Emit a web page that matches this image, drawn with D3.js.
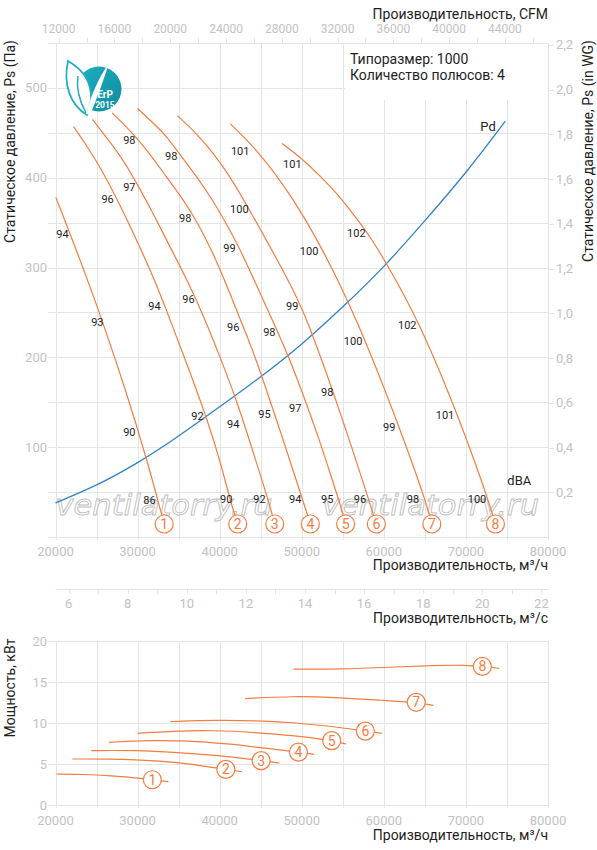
<!doctype html>
<html lang="ru">
<head>
<meta charset="utf-8">
<script src="https://cdn.jsdelivr.net/npm/d3@7"></script>
<style>
body { margin: 0; background: #fff; }
svg text { font-family: Roboto, "Noto Sans", sans-serif; }
.tick-label { fill: #c2c2c2; font-size: 13px; }
.title { fill: #1e1e1e; font-size: 14px; }
.dba { fill: #1e1e1e; font-size: 11px; }
</style>
</head>
<body>
<svg id="chart" width="597" height="850"></svg>
<script>
//=============================== DATA ===================================
var flowTicks  = [20000, 30000, 40000, 50000, 60000, 70000, 80000]
var psTicks    = [100, 200, 300, 400, 500]
var wgTicks    = [0.2, 0.4, 0.6, 0.8, 1.0, 1.2, 1.4, 1.6, 1.8, 2.0, 2.2]
var cfmTicks   = [12000, 14000, 16000, 18000, 20000, 22000, 24000, 26000, 28000,
                  30000, 32000, 34000, 36000, 38000, 40000, 42000, 44000, 46000]
var m3sTicks   = [6, 7, 8, 9, 10, 11, 12, 13, 14, 15, 16, 17, 18, 19, 20, 21, 22]
var powerTicks = [0, 5, 10, 15, 20]

// static pressure curves, [m3/h, Pa]
var ps1 = [[20050,378],[21500,344],[23050,307],[24350,275],[25450,247],[28550,164],[31200,84],[32700,33],[33550,4]]
var ps2 = [[22200,457],[24000,433],[25800,406],[27500,376],[29100,346],[30700,314],[32300,281],[33750,247],[36200,188],[38600,128],[40200,80],[41500,33],[42600,4]]
var ps3 = [[24500,465],[26450,442],[28400,418],[30200,389],[32200,355],[34000,322],[36100,285],[38000,247],[40200,197],[42150,150],[44200,91],[46200,33],[47000,4]]
var ps4 = [[26900,472],[28500,458],[30100,442],[31800,423],[33500,401],[35300,379],[37000,355],[38900,322],[40600,286],[42300,247],[43850,212],[45300,175],[47600,112],[49800,50],[50800,22],[51400,4]]
var ps5 = [[30000,477],[31550,464],[33400,448],[35300,424],[37150,402],[39000,377],[40700,351],[42400,322],[44000,290],[45450,261],[46400,242],[48500,199],[50400,153],[52150,108],[53600,67],[54800,33],[55650,4]]
var ps6 = [[34850,469],[37400,448],[40800,409],[43600,365],[48500,284],[50550,246],[55050,130],[58450,33],[59450,4]]
var ps7 = [[41300,460],[44600,431],[48700,381],[52600,320],[56750,242],[61600,130],[65400,33],[66100,4]]
var ps8 = [[47600,438],[49800,423],[52150,403],[54450,381],[56500,357],[58600,331],[60400,303],[64200,242],[69300,130],[73050,33],[73900,4]]
var psCurves = [ps1, ps2, ps3, ps4, ps5, ps6, ps7, ps8]

// dynamic pressure, [m3/h, Pa]
var pd = [[20000,38],[25000,57],[30000,82],[35000,112],[40000,145],[45000,178],[50000,214],[55000,256],[60000,300],[65000,352],[70000,405],[74800,463]]

// noise level labels along the curves, [m3/h, Pa, dBA]
var lbl1 = [[20850,337,94],[25100,239,93],[29000,117,90],[31450,41,86]]
var lbl2 = [[26350,376,96],[32050,257,94],[37300,135,92],[40800,42,90]]
var lbl3 = [[29000,389,97],[36200,265,96],[41650,126,94],[44850,42,92]]
var lbl4 = [[29000,442,98],[35800,355,98],[41650,234,96],[45450,137,95],[49200,42,94]]
var lbl5 = [[34100,424,98],[41200,322,99],[46050,228,98],[49200,143,97],[53100,42,95]]
var lbl6 = [[42400,365,100],[48850,257,99],[53100,161,98],[57100,42,96]]
var lbl7 = [[42500,430,101],[50900,318,100],[56250,218,100],[60650,122,99],[63550,42,98]]
var lbl8 = [[48850,415,101],[56650,338,102],[62850,236,102],[67450,136,101],[71350,42,100]]
var dbaLabels = [lbl1, lbl2, lbl3, lbl4, lbl5, lbl6, lbl7, lbl8]

// shaft power curves, [m3/h, kW]
var pw1 = [[20100,3.78],[23450,3.74],[26700,3.58],[30350,3.25],[33750,2.85]]
var pw2 = [[22050,5.61],[26700,5.61],[31550,5.45],[36050,5.08],[39250,4.55],[42700,4.07]]
var pw3 = [[24350,6.63],[29550,6.67],[34800,6.42],[40100,6.02],[43550,5.61],[47300,5.12]]
var pw4 = [[26500,7.64],[31550,7.89],[36050,7.85],[40900,7.48],[45750,6.91],[49600,6.45],[51500,6.18]]
var pw5 = [[30000,8.74],[34400,9.02],[39250,9.11],[44150,8.86],[49200,8.45],[53650,7.85],[55400,7.44]]
var pw6 = [[34000,10.16],[39700,10.37],[45750,10.24],[48600,10.08],[53450,9.63],[57700,9.02],[59750,8.74]]
var pw7 = [[43100,12.97],[49000,13.29],[54700,13.09],[59950,12.76],[63950,12.52],[66050,12.15]]
var pw8 = [[49000,16.57],[54700,16.55],[60800,16.8],[66000,17.03],[70100,17.07],[72000,16.9],[74050,16.67]]
var pwCurves = [pw1, pw2, pw3, pw4, pw5, pw6, pw7, pw8]
var pwMarks  = [31800, 40750, 45050, 49600, 53650, 57750, 63950, 72000]  // where the numbers sit
var psMark   = 14.5   // Pa level of the numbered circles in the upper chart

var sizeText  = 'Типоразмер: 1000'
var polesText = 'Количество полюсов: 4'

//=============================== SETUP ==================================
var ORANGE = '#f47d42', BLUE = '#2f82c9', GRID = '#e5e5e5', INK = '#1e1e1e'
var PA_PER_INWG = 249.09, CFM_PER_M3H = 0.588578

var svg  = d3.select('#chart')
var x    = d3.scaleLinear().domain([20000, 80000]).range([55.5, 548])
var y    = d3.scaleLinear().domain([0, 550]).range([537, 43])
var yWG  = d3.scaleLinear().domain([0, 550 / PA_PER_INWG]).range(y.range())
var xCFM = d3.scaleLinear().domain([20000 * CFM_PER_M3H, 80000 * CFM_PER_M3H]).range(x.range())
var xS   = d3.scaleLinear().domain([20000 / 3600, 80000 / 3600]).range(x.range())
var yP   = d3.scaleLinear().domain([0, 20]).range([805, 641])
var fmtComma = d3.format('.1f')

var snap = function(v) { return Math.round(v) + 0.5 }

// flow where a curve reaches a given pressure
function flowAt(c, p) {
	for (var i = 1; i < c.length; i++) {
		if (c[i][1] <= p) {
			var t = (c[i-1][1] - p) / (c[i-1][1] - c[i][1])
			return c[i-1][0] + t * (c[i][0] - c[i-1][0])
		}
	}
	return c[c.length-1][0]
}
// value of a curve at a given flow
function valueAt(c, q) {
	for (var i = 1; i < c.length; i++) {
		if (c[i][0] >= q) {
			var t = (q - c[i-1][0]) / (c[i][0] - c[i-1][0])
			return c[i-1][1] + t * (c[i][1] - c[i-1][1])
		}
	}
	return c[c.length-1][1]
}

//=============================== GRID ===================================
var g = svg.append('g').attr('stroke', GRID).attr('stroke-width', 1)
g.selectAll('line.v').data(x.ticks(12)).enter().append('line')
	.attr('x1', function(d) { return snap(x(d)) }).attr('x2', function(d) { return snap(x(d)) })
	.attr('y1', y(550)).attr('y2', y(0) + 3)
g.selectAll('line.h').data(y.ticks(11)).enter().append('line')
	.attr('x1', 48).attr('x2', x(80000))
	.attr('y1', function(d) { return snap(y(d)) }).attr('y2', function(d) { return snap(y(d)) })
// top CFM axis ticks
g.selectAll('line.cfm').data(cfmTicks).enter().append('line')
	.attr('x1', function(d) { return snap(xCFM(d)) }).attr('x2', function(d) { return snap(xCFM(d)) })
	.attr('y1', y(550)).attr('y2', y(550) - 5)
// right in WG ticks
g.selectAll('line.wg').data(wgTicks).enter().append('line')
	.attr('x1', x(80000)).attr('x2', x(80000) + 6)
	.attr('y1', function(d) { return snap(yWG(d)) }).attr('y2', function(d) { return snap(yWG(d)) })
// m3/s axis
g.append('line').attr('x1', x(20000)).attr('x2', x(80000)).attr('y1', 589.5).attr('y2', 589.5)
g.selectAll('line.ms').data(m3sTicks).enter().append('line')
	.attr('x1', function(d) { return snap(xS(d)) }).attr('x2', function(d) { return snap(xS(d)) })
	.attr('y1', 589.5).attr('y2', 594)
// power chart grid
g.selectAll('line.pv').data(x.ticks(12)).enter().append('line')
	.attr('x1', function(d) { return snap(x(d)) }).attr('x2', function(d) { return snap(x(d)) })
	.attr('y1', yP(20)).attr('y2', yP(0) + 3)
g.selectAll('line.ph').data(powerTicks).enter().append('line')
	.attr('x1', 48).attr('x2', x(80000))
	.attr('y1', function(d) { return snap(yP(d)) }).attr('y2', function(d) { return snap(yP(d)) })

// info box
svg.append('rect').attr('x', 345).attr('y', 44).attr('width', 202).attr('height', 56).attr('fill', '#fff')
svg.append('text').attr('class', 'title').attr('x', 350).attr('y', 64).text(sizeText)
svg.append('text').attr('class', 'title').attr('x', 350).attr('y', 80).text(polesText)

// watermark
;[x(20000), 322].forEach(function(px) {
	svg.append('text').attr('x', px).attr('y', 515)
		.attr('textLength', 217).attr('lengthAdjust', 'spacingAndGlyphs')
		.style('font-family', '"DejaVu Sans", sans-serif').style('font-style', 'italic')
		.style('font-size', '29px').attr('fill', '#fff').attr('fill-opacity', 0.5)
		.attr('stroke', '#c0c0c0').attr('stroke-width', 0.9)
		.text('ventilatorry.ru')
})

//=============================== DRAW ===================================
var drawPs = d3.line()
	.x(function(d) { return x(d[0]) })
	.y(function(d) { return y(d[1]) })
	.curve(d3.curveBasis)
var drawPw = d3.line()
	.x(function(d) { return x(d[0]) })
	.y(function(d) { return yP(d[1]) })
	.curve(d3.curveBasis)

svg.append('path').datum(pd).attr('d', drawPs)
	.attr('fill', 'none').attr('stroke', BLUE).attr('stroke-width', 1.3)

svg.selectAll('path.fan').data(psCurves).enter().append('path').classed('fan', true)
	.attr('d', drawPs).attr('fill', 'none').attr('stroke', ORANGE).attr('stroke-width', 1.2)
svg.selectAll('path.pw').data(pwCurves).enter().append('path').classed('pw', true)
	.attr('d', drawPw).attr('fill', 'none').attr('stroke', ORANGE).attr('stroke-width', 1.2)

dbaLabels.forEach(function(set) {
	svg.append('g').selectAll('text').data(set).enter().append('text').attr('class', 'dba')
		.attr('x', function(d) { return x(d[0]) }).attr('y', function(d) { return y(d[1]) })
		.attr('text-anchor', 'middle').attr('dy', '0.35em')
		.text(function(d) { return d[2] })
})
svg.append('text').attr('class', 'title').style('font-size', '13px')
	.attr('x', x(76500)).attr('y', y(63)).attr('text-anchor', 'middle').attr('dy', '0.35em').text('dBA')
svg.append('text').attr('class', 'title').style('font-size', '13px')
	.attr('x', x(72700)).attr('y', y(457)).attr('text-anchor', 'middle').attr('dy', '0.35em').text('Pd')

// numbered circles
function marker(cx, cy, n) {
	svg.append('circle').attr('cx', cx).attr('cy', cy).attr('r', 9)
		.attr('fill', '#fff').attr('stroke', ORANGE).attr('stroke-width', 1.2)
	svg.append('text').attr('x', cx).attr('y', cy).attr('dy', '0.36em')
		.attr('text-anchor', 'middle').style('font-size', '14px').attr('fill', ORANGE).text(n)
}
psCurves.forEach(function(c, i) { marker(x(flowAt(c, psMark)), y(psMark), i + 1) })
pwCurves.forEach(function(c, i) { marker(x(pwMarks[i]), yP(valueAt(c, pwMarks[i])), i + 1) })

//=============================== AXES TEXT ==============================
function labels(data, fx, fy, anchor, fmt, size) {
	svg.append('g').selectAll('text').data(data).enter().append('text').attr('class', 'tick-label')
		.style('font-size', (size || 13) + 'px')
		.attr('x', fx).attr('y', fy).attr('text-anchor', anchor)
		.text(fmt)
}
labels(flowTicks, function(d) { return x(d) }, 556, 'middle', function(d) { return d })
labels(flowTicks, function(d) { return x(d) }, 825, 'middle', function(d) { return d })
labels(psTicks, 47, function(d) { return y(d) + 4.5 }, 'end', function(d) { return d })
labels(powerTicks, 47, function(d) { return yP(d) + 4.5 }, 'end', function(d) { return d })
labels(wgTicks, 556, function(d) { return yWG(d) + 4.5 }, 'start', function(d) { return fmtComma(d).replace('.', ',') })
labels(cfmTicks.filter(function(d) { return d % 4000 == 0 }), function(d) { return xCFM(d) }, 33, 'middle', function(d) { return d }, 12)
labels(m3sTicks.filter(function(d) { return d % 2 == 0 }), function(d) { return xS(d) }, 608, 'middle', function(d) { return d })

svg.append('text').attr('class', 'title').attr('x', x(80000)).attr('y', 19).attr('text-anchor', 'end').text('Производительность, CFM')
svg.append('text').attr('class', 'title').attr('x', x(80000)).attr('y', 570).attr('text-anchor', 'end').text('Производительность, м³/ч')
svg.append('text').attr('class', 'title').attr('x', x(80000)).attr('y', 623).attr('text-anchor', 'end').text('Производительность, м³/с')
svg.append('text').attr('class', 'title').attr('x', x(80000)).attr('y', 840).attr('text-anchor', 'end').text('Производительность, м³/ч')
svg.append('text').attr('class', 'title').attr('transform', 'translate(15,40) rotate(-90)')
	.attr('text-anchor', 'end').text('Статическое давление, Ps (Па)')
svg.append('text').attr('class', 'title').attr('transform', 'translate(593,40) rotate(-90)')
	.attr('text-anchor', 'end').text('Статическое давление, Ps (in WG)')
svg.append('text').attr('class', 'title').attr('transform', 'translate(15,688) rotate(-90)')
	.attr('text-anchor', 'middle').text('Мощность, кВт')

//=============================== LOGO ===================================
var defs = svg.append('defs')
var grad = defs.append('linearGradient').attr('id', 'erp').attr('x1', 0).attr('y1', 0).attr('x2', 1).attr('y2', 1)
grad.append('stop').attr('offset', 0).attr('stop-color', '#1cb0c0')
grad.append('stop').attr('offset', 1).attr('stop-color', '#0d8c9e')
var logo = svg.append('g')
logo.append('circle').attr('cx', 99).attr('cy', 89).attr('r', 22.5).attr('fill', 'url(#erp)')
logo.append('path').attr('d', 'M87,115 C70,105 63,84 68,61 C82,69 92,82 91,100 Z')
	.attr('fill', '#fff').attr('stroke', '#22aec4').attr('stroke-width', 1.8)
logo.append('path').attr('d', 'M86,113 C79,100 76,88 78,76')
	.attr('fill', 'none').attr('stroke', '#22aec4').attr('stroke-width', 1.5)
logo.append('path').attr('d', 'M86,114 C91,95 98,79 109,63 C103,82 97,98 90,115 Z').attr('fill', '#fff')
logo.append('text').attr('x', 105).attr('y', 98).attr('text-anchor', 'middle')
	.style('font-size', '10px').style('font-weight', 'bold').attr('fill', '#fff').text('ErP')
logo.append('text').attr('x', 105).attr('y', 108).attr('text-anchor', 'middle')
	.style('font-size', '8.5px').style('font-weight', 'bold').attr('fill', '#fff').text('2015')
</script>
</body>
</html>
